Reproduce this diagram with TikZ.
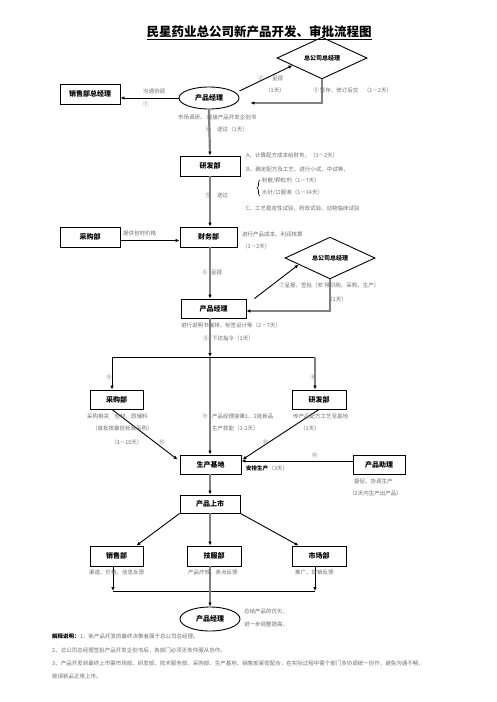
\documentclass[tikz,border=0pt]{standalone}
\usepackage{fontspec}
\setmainfont{Noto Sans CJK SC}
\usetikzlibrary{shapes.geometric,arrows.meta,calc,decorations.pathreplacing}
\definecolor{lblgray}{HTML}{6E6E6E}
\definecolor{linegray}{HTML}{808080}
\begin{document}
\begin{tikzpicture}[x=1pt,y=-1pt,
  box/.style={draw,line width=0.9pt,minimum width=60pt,minimum height=20pt,inner sep=0pt,font=\bfseries\fontsize{7}{8}\selectfont},
  dia/.style={draw,diamond,line width=0.9pt,minimum width=90pt,minimum height=37pt,inner sep=0pt,font=\bfseries\fontsize{6}{7}\selectfont},
  ell/.style={draw,ellipse,line width=0.9pt,minimum width=60pt,minimum height=22pt,inner sep=0pt,font=\bfseries\fontsize{7}{8}\selectfont},
  lbl/.style={text=lblgray,font=\fontsize{5.5}{6.5}\selectfont,inner sep=0pt,anchor=west},
  blbl/.style={text=black,font=\bfseries\fontsize{5.5}{6.5}\selectfont,inner sep=0pt,anchor=west},
  gline/.style={draw=linegray,line width=2.2pt},
  bline/.style={draw=black,line width=0.9pt},
  arr/.style={-{Latex[length=4pt,width=3.5pt,color=black]}}
]
\useasboundingbox[fill=white] (0,0) rectangle (496,702);

% title
\node[font=\bfseries\fontsize{12.5}{14}\selectfont,inner sep=0pt] (title) at (259,33) {\underline{民星药业总公司新产品开发、审批流程图}};

% nodes
\node[dia] (gm1) at (322,58) {总公司总经理};
\node[box] (sm) at (90,94) {销售部总经理};
\node[ell] (pm1) at (209,98) {产品经理};
\node[box] (rd1) at (210,166) {研发部};
\node[box,minimum width=57pt] (fin) at (208.5,237) {财务部};
\node[box] (pur1) at (90,237) {采购部};
\node[dia,minimum height=30pt] (gm2) at (330,258) {总公司总经理};
\node[box,minimum width=65pt,minimum height=19pt] (pm2) at (213.5,308.5) {产品经理};
\node[box,minimum width=53pt,minimum height=19pt] (pur2) at (116.5,399.5) {采购部};
\node[box,minimum width=54pt,minimum height=19pt] (rd2) at (319,399.5) {研发部};
\node[box,minimum width=61pt,minimum height=19pt] (base) at (210.5,464.5) {生产基地};
\node[box,minimum width=52pt,minimum height=19pt] (pa) at (379,464.5) {产品助理};
\node[box,minimum height=18pt] (mkt) at (210,504) {产品上市};
\node[box,minimum width=53pt] (sales) at (116.5,556) {销售部};
\node[box,minimum width=54pt] (tech) at (214,556) {技服部};
\node[box,minimum width=54pt] (mk) at (319,556) {市场部};
\node[ell,minimum height=24pt] (pm3) at (210,619) {产品经理};

% junction coordinates
\coordinate (j1) at (210,357);
\coordinate (j1L) at (112,357);
\coordinate (j1R) at (315,357);
\coordinate (j2) at (210,591);
\coordinate (j2L) at (113,591);
\coordinate (j2R) at (315,591);

% connectors
\draw[bline,arr] (pm1.west) -- (pm1.west -| sm.east);
\draw[bline,arr] ([yshift=7pt]pm1.east) -- ($(gm1.west)!0.35!(gm1.south)$);
\draw[gline,arr] (gm1.south) |- ([xshift=11pt,yshift=-5pt]pm1.east);
\draw[gline,arr] (pm1.south) -- (rd1.north);
\draw[gline,arr] (rd1.south) -- (rd1.south |- fin.north);
\draw[bline,arr] ([yshift=-3.5pt]pur1.east) -- ([yshift=-3.5pt]fin.west);
\draw[gline,arr] (fin.south -| j1) -- (j1 |- pm2.north);
\draw[bline,arr] ([xshift=8pt]pm2.north east) -- ($(gm2.west)!0.31!(gm2.south)$);
\draw[gline,arr] (gm2.south) |- ([yshift=-2.5pt]pm2.east);
\draw[gline,arr] (pm2.south -| j1) -- (j1);
\draw[gline,arr] (j1) -- (j1 |- base.north);
\draw[bline] (j1L) -- (j1R);
\draw[bline,arr] (j1L) -- (j1L |- pur2.north);
\draw[gline,arr] (j1R) -- (j1R |- rd2.north);
\draw[bline,arr] (pur2.south -| j1L) -- ([xshift=-2pt,yshift=-5pt]base.north west);
\draw[bline,arr] (rd2.south) -- ([xshift=1pt,yshift=-5pt]base.north east);
\draw[bline,arr] ([yshift=3.5pt]pa.west) -- ([yshift=3.5pt]base.east);
\draw[gline,arr] (base.south -| mkt) -- (mkt.north);
\draw[bline,arr] (mkt.south west) -- ([xshift=-7pt]sales.north east);
\draw[gline,arr] (mkt.south) -- (mkt.south |- tech.north);
\draw[bline,arr] (mkt.south east) -- ([xshift=7pt]mk.north west);
\draw[bline] (j2L) -- (j2R);
\draw[bline,arr] (j2L |- sales.south) -- (j2L);
\draw[bline,arr] (j2R |- mk.south) -- (j2R);
\draw[gline,arr] (tech.south -| j2) -- (pm3.north);

% brace
\draw[bline,line width=0.6pt,decorate,decoration={brace,amplitude=3pt}] (260,196) -- (260,180);

% labels
\node[lbl] (l1) at (143,91) {沟通协调};
\node[lbl] (l2) at (143,104) {①};
\node[lbl] (l3) at (258,78) {②};
\node[lbl] (l4) at (272,78) {呈报};
\node[lbl] (l5) at (265,90) {（1天）};
\node[lbl] (l6) at (313,90) {③ 签存、修订后交　（1－2天）};
\node[lbl] (l7) at (178,117) {市场调研、 规接产品开发企划书};
\node[lbl] (l8) at (205,129) {④};
\node[lbl] (l9) at (217,129) {送达（1天）};
\node[lbl] (l10) at (246,155) {A、计算配方成本给财务，（1－2天）};
\node[lbl] (l11) at (246,169) {B、确定配方及工艺、进行小试、中试等，};
\node[lbl] (l12) at (262,181) {粉散/颗粒剂（1－7天）};
\node[lbl] (l13) at (262,193) {水针/口服液（1－14天）};
\node[lbl] (l14) at (246,208) {C、工艺稳定性试验、药效试验、动物临床试验};
\node[lbl] (l15) at (205,195) {⑤};
\node[lbl] (l16) at (217,195) {送达};
\node[lbl] (l17) at (123,233) {提供包材价格};
\node[lbl] (l18) at (242,234) {进行产品成本、利润核算};
\node[lbl] (l19) at (242,246) {（1－2天）};
\node[lbl] (l20) at (202,272) {⑥};
\node[lbl] (l21) at (211,272) {呈报};
\node[lbl] (l22) at (279,285) {⑦呈报、签批（安 排印刷、采购、生产）};
\node[lbl] (l23) at (327,299) {（1天）};
\node[lbl] (l24) at (181,325) {进行说明书编排、标签设计等（2－7天）};
\node[lbl] (l25) at (203,338) {⑧};
\node[lbl] (l26) at (212,338) {下达指令（1天）};
\node[lbl] (l27) at (106,377) {⑨};
\node[lbl] (l28) at (310,377) {⑨};
\node[lbl] (l29) at (87,416) {采购相关　包材、原辅料};
\node[lbl] (l30) at (92,428) {（首批按最低标准采购）};
\node[lbl] (l31) at (111,442) {（3－10天）};
\node[lbl] (l32) at (159,442) {⑩};
\node[lbl] (l33) at (202,416) {⑨};
\node[lbl] (l34) at (212,416) {产品经理接第1、2批新品};
\node[lbl] (l35) at (212,428) {生产技能（1-2天）};
\node[lbl] (l36) at (293,416) {传产品配方工艺至基地};
\node[lbl] (l37) at (300,428) {（1天）};
\node[lbl] (l38) at (263,442) {⑩};
\node[lbl] (l39) at (312,455) {⑩};
\node[blbl] (l40) at (246,468) {安排生产};
\node[lbl] (l41) at (l40.east) {（3天）};
\node[lbl] (l42) at (354,481) {督促、协调生产};
\node[lbl] (l43) at (349,493) {（2天内生产出产品）};
\node[lbl] (l44) at (89,572) {渠道、价格、信息反馈};
\node[lbl] (l45) at (188,572) {产品疗效、卖点反馈};
\node[lbl] (l46) at (295,572) {推广、促销反馈};
\node[lbl] (l47) at (244,611) {总结产品的优劣，};
\node[lbl] (l48) at (244,624) {进一步调整提高。};

% notes
\node[blbl] (n0) at (52,636) {解释说明：};
\node[lbl] (n1) at (n0.east) {1、新产品开发的最终决策者属于总公司总经理。};
\node[lbl] (n2) at (52,650) {2、总公司总经理签批产品开发企划书后，各部门必须无条件服从协作。};
\node[lbl] (n3) at (52,663) {3、产品开发到最终上市需市场部、研发部、技术服务部、采购部、生产基地、销售部紧密配合，在实际过程中需个部门多协调统一协作，避免沟通不畅，};
\node[lbl] (n4) at (52,676) {致误新品正常上市。};
\end{tikzpicture}
\end{document}
